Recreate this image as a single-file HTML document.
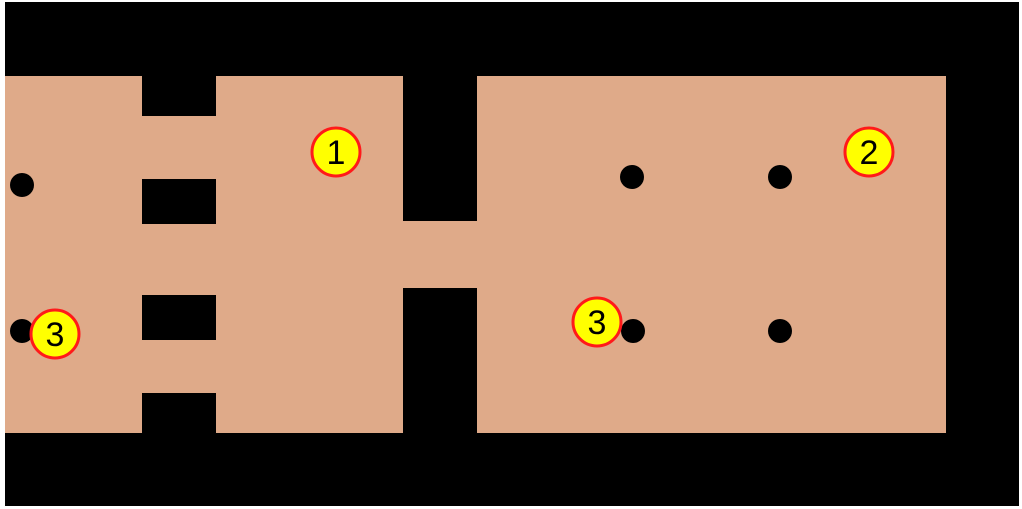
<!DOCTYPE html>
<html><head><meta charset="utf-8"><style>
html,body{margin:0;padding:0;background:#fff;width:1022px;height:509px;overflow:hidden}
svg{display:block}
text{font-family:"Liberation Sans",sans-serif;font-size:34px;fill:#000}
</style></head><body>
<svg width="1022" height="509" viewBox="0 0 1022 509">
<rect x="5" y="2" width="1014" height="504" fill="#000"/>
<rect x="5" y="76" width="941" height="357" fill="#dfaa89"/>
<g fill="#000">
<rect x="142" y="76" width="74" height="40"/>
<rect x="142" y="179" width="74" height="45"/>
<rect x="142" y="295" width="74" height="45"/>
<rect x="142" y="393" width="74" height="40"/>
<rect x="403" y="76" width="74" height="145"/>
<rect x="403" y="288" width="74" height="145"/>
<circle cx="22" cy="185" r="12"/>
<circle cx="22" cy="331" r="12"/>
<circle cx="632" cy="177" r="12"/>
<circle cx="780" cy="177" r="12"/>
<circle cx="633" cy="331" r="12"/>
<circle cx="780" cy="331" r="12"/>
</g>
<g fill="#ffff00" stroke="#ff1a1a" stroke-width="3">
<circle cx="336" cy="152" r="24"/>
<circle cx="869" cy="152" r="24"/>
<circle cx="55" cy="334" r="24"/>
<circle cx="597" cy="322" r="24"/>
</g>
<g text-anchor="middle">
<text x="336" y="164">1</text>
<text x="869" y="164">2</text>
<text x="55" y="346">3</text>
<text x="597" y="334">3</text>
</g>
</svg>
</body></html>
